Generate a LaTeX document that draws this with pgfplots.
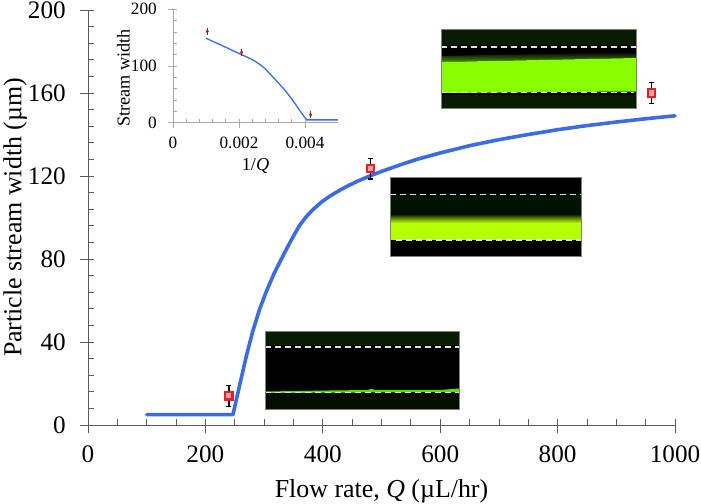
\documentclass[border=0pt]{standalone}
\usepackage{pgfplots}
\pgfplotsset{compat=1.18}
\usepackage{fontspec}
\setmainfont{Liberation Serif}
\definecolor{axgray}{HTML}{5A5A5A}
\definecolor{insgray}{HTML}{A8A8A8}
\definecolor{curveblue}{HTML}{3C6CE4}
\definecolor{mred}{HTML}{E0202A}
\definecolor{dkgreen}{HTML}{071C00}
\definecolor{limeA}{HTML}{88FF00}
\definecolor{limeB}{HTML}{B4FF00}
\begin{document}
\begin{tikzpicture}
\useasboundingbox (0,0) rectangle (701bp,504bp);
% main axis
\begin{axis}[
  at={(88bp,79bp)}, anchor=south west,
  scale only axis, width=587bp, height=415bp,
  xmin=0, xmax=1000, ymin=0, ymax=200,
  axis lines=left, axis line style={-, draw=axgray, line width=0.9bp},
  clip=false,
  xtick={0,200,...,1000}, ytick={0,40,...,200},
  minor x tick num=3, minor y tick num=4,
  tick align=inside,
  major tick length=14bp, minor tick length=6bp,
  tick style={draw=axgray, line width=0.8bp},
  major x tick style={yshift=-8bp},
  major y tick style={xshift=-8bp},
  /pgf/number format/assume math mode=true,
  /pgf/number format/1000 sep={},
  tick label style={font=\fontsize{25.3}{25.3}\selectfont, inner sep=0pt},
  xticklabel style={yshift=-21bp, anchor=north},
  yticklabel style={xshift=-22bp, anchor=east},
  xlabel={Flow rate, \textit{Q} (µL/hr)},
  ylabel={Particle stream width (µm)},
  label style={font=\fontsize{26}{26}\selectfont, inner sep=0pt},
  xlabel style={at={(axis description cs:0.5,-0.159)}, anchor=center},
  ylabel style={at={(axis description cs:-0.124,0.5)}, anchor=center},
]
\addplot[curveblue, line width=3.6bp, line join=round, line cap=round, no marks] coordinates {
 (100,5)(247,5)(259,20)(270,33.5)(280.5,45)(292,55.5)(304,64.5)(317,73)(333,82)(347,89.5)(360,96)(372,100.5)(384,104)(398,107.5)(412,110.3)(430,113.3)(441,115)(460,117.6)(480,120)(500,122.2)(531,125.3)(560,128)(600,131.1)(650,134.6)(700,137.5)(750,140)(800,142.3)(850,144.3)(900,146)(950,147.6)(1000,149)};
\addplot[draw=none, mark=square*, mark size=3.6bp, mark options={draw=mred, fill=mred!45, line width=2.1bp, solid}]
 coordinates {(240,14)(481,123.5)(960,160)};
\addplot[draw=none, mark=none, forget plot,
  error bars/.cd, y dir=both, y explicit, error bar style={black, line width=1.5bp},
  error mark options={rotate=90, black, mark size=2.6bp, line width=1.5bp}]
 coordinates {(240,14) +- (0,5) (481,123.5) +- (0,5) (960,160) +- (0,5)};
\end{axis}
% micrographs
\begin{scope}[x=1bp,y=-1bp,yshift=504bp]
 % top image
 \fill[black] (441,29) rectangle (636,108);
 \fill[dkgreen] (441,29) rectangle (636,45);
 \fill[dkgreen] (441,95) rectangle (636,108);
 \shade[top color=black, bottom color=limeA!55!black] (441,56) -- (636,52) -- (636,58) -- (441,62) -- cycle;
 \fill[limeA] (441,62) -- (636,58) -- (636,91.5) -- (560,92) -- (441,93) -- cycle;
 \draw[white!88!black, line width=1.2bp, dash pattern=on 5.5bp off 4.5bp] (441,47) -- (636,47);
 \draw[white!88!black, line width=1.2bp, dash pattern=on 5.5bp off 4.5bp] (441,92.5) -- (634,92.5);
 \draw[gray, line width=0.5bp] (441,29) rectangle (636,108);
 % middle image
 \fill[black] (390,177) rectangle (581,256);
 \fill[black!93!green] (390,195) rectangle (581,216);
 \shade[top color=black!93!green, bottom color=limeB!50!black] (390,214) rectangle (581,218);
 \shade[top color=limeB!50!black, bottom color=limeB] (390,218) rectangle (581,223);
 \fill[limeB] (390,223) rectangle (581,240);
 \draw[white!88!black, line width=1.2bp, dash pattern=on 5.5bp off 4.5bp] (390,194.5) -- (581,194.5);
 \draw[white!88!black, line width=1.2bp, dash pattern=on 5.5bp off 4.5bp] (396,240) -- (581,240);
 \draw[gray, line width=0.5bp] (390,177) rectangle (581,256);
 % bottom image
 \fill[black] (265,331) rectangle (459,409);
 \fill[dkgreen] (265,331) rectangle (459,345);
 \fill[dkgreen!50!black] (265,395) rectangle (459,409);
 \fill[green!55!lime!90!black] (265,391.5) -- (330,390.5) -- (368,390) -- (371,388.8) -- (375,390) -- (440,390) -- (459,388.5) -- (459,392) -- (265,393) -- cycle;
 \draw[white!88!black, line width=1.2bp, dash pattern=on 5.5bp off 4.5bp] (265,347) -- (459,347);
 \draw[white!88!black, line width=1.2bp, dash pattern=on 5.5bp off 4.5bp] (265,392.5) -- (459,392.5);
 \draw[gray, line width=0.5bp] (265,331) rectangle (459,409);
\end{scope}
% inset
\begin{axis}[
  at={(173bp,381.3bp)}, anchor=south west,
  scale only axis, width=165bp, height=113.4bp,
  xmin=0, xmax=0.005, ymin=0, ymax=200,
  axis lines=left, axis line style={-, draw=insgray, line width=1bp},
  clip=false,
  xtick={0,0.002,0.004}, ytick={0,100,200},
  xticklabels={0,0.002,0.004},
  minor x tick num=4, minor y tick num=4,
  scaled x ticks=false,
  tick align=inside,
  major tick length=9bp, minor tick length=4bp,
  tick style={draw=insgray, line width=0.8bp},
  major x tick style={yshift=-5bp},
  major y tick style={xshift=-5bp},
  /pgf/number format/assume math mode=true,
  tick label style={font=\fontsize{17.3}{17.3}\selectfont, inner sep=0pt},
  xticklabel style={yshift=-14.5bp, anchor=north},
  yticklabel style={xshift=-16bp, anchor=east},
  xlabel={1/\textit{Q}},
  ylabel={Stream width},
  label style={font=\fontsize{18.3}{18.3}\selectfont, inner sep=0pt},
  xlabel style={at={(axis description cs:0.5,-0.385)}, anchor=center},
  ylabel style={at={(axis description cs:-0.30,0.394)}, anchor=center},
]
\addplot[curveblue, line width=1.3bp, line join=round, no marks] coordinates {
 (0.0050,5)(0.00405,5)(0.00386,20)(0.0037,33.5)(0.00342,55.5)(0.00315,73)(0.00288,89.5)(0.00278,96)(0.0026,104)(0.00243,110.3)(0.00227,115)(0.00208,120)(0.00188,125.3)(0.00167,131.1)(0.00143,137.5)(0.00125,142.3)(0.00111,146)(0.0010,149)};
\addplot[draw=none, mark=diamond*, mark size=1.6bp, mark options={draw=mred!75!black, fill=mred!75!black},
  error bars/.cd, y dir=both, y explicit, error bar style={mred!75!black, line width=0.6bp}, error mark=none]
 coordinates {(0.00104,161) +- (0,6) (0.00208,124) +- (0,6) (0.00417,14) +- (0,6)};
\end{axis}
\end{tikzpicture}
\end{document}
